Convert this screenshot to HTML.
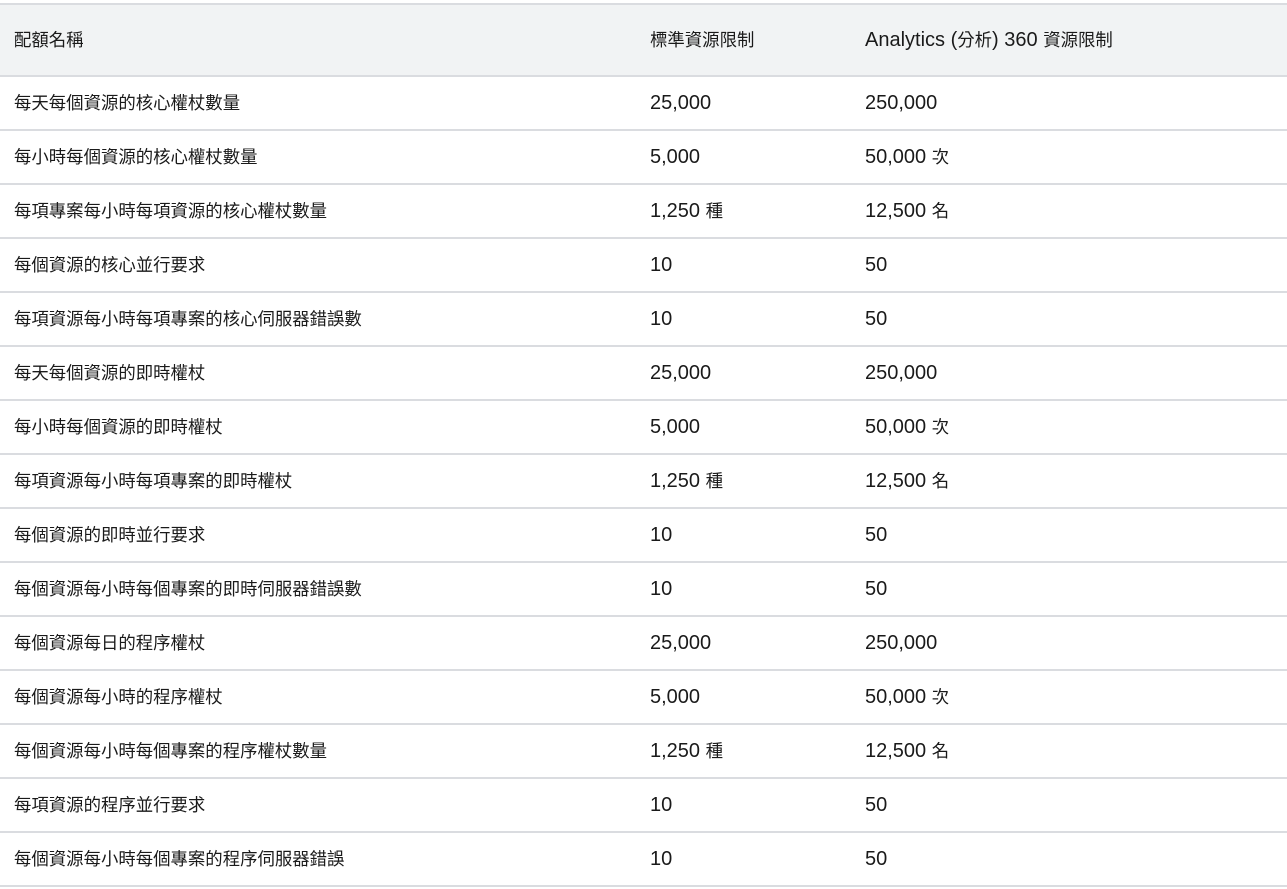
<!DOCTYPE html>
<html><head><meta charset="utf-8"><style>
body{margin:0;width:1287px;height:889px;background:#fff;font-family:"Liberation Sans","Noto Sans CJK TC",sans-serif;color:#1a1a1a;font-size:17.4px;overflow:hidden}
table{position:absolute;left:0;top:3px;width:1287px;border-collapse:collapse}
th,td{text-align:left;font-weight:normal;padding:0;height:52px;line-height:22px;vertical-align:middle;border-bottom:2px solid #dadce0;white-space:nowrap}
th{height:70px;background:#f1f3f4;border-top:2px solid #dadce0}
td:first-child,th:first-child{padding-left:14px;width:636px}
td:nth-child(2),th:nth-child(2){width:215px}
td{padding-top:0;}
.l{font-size:20px;vertical-align:top;line-height:22px}
</style></head><body>
<table>
<thead><tr><th>配額名稱</th><th>標準資源限制</th><th><span class="l">Analytics (</span>分析<span class="l">) 360 </span>資源限制</th></tr></thead>
<tbody id="tb"></tbody></table>
<script>
const names=["每天每個資源的核心權杖數量","每小時每個資源的核心權杖數量","每項專案每小時每項資源的核心權杖數量","每個資源的核心並行要求","每項資源每小時每項專案的核心伺服器錯誤數","每天每個資源的即時權杖","每小時每個資源的即時權杖","每項資源每小時每項專案的即時權杖","每個資源的即時並行要求","每個資源每小時每個專案的即時伺服器錯誤數","每個資源每日的程序權杖","每個資源每小時的程序權杖","每個資源每小時每個專案的程序權杖數量","每項資源的程序並行要求","每個資源每小時每個專案的程序伺服器錯誤"];
const standard=["25,000","5,000","1,250 種","10","10","25,000","5,000","1,250 種","10","10","25,000","5,000","1,250 種","10","10"];
const premium=["250,000","50,000 次","12,500 名","50","50","250,000","50,000 次","12,500 名","50","50","250,000","50,000 次","12,500 名","50","50"];
const tb=document.getElementById('tb');
function fill(td,v){
  const parts=v.match(/[\x20-\x7e]+|[^\x20-\x7e]+/g)||[];
  parts.forEach(p=>{
    if(/^[\x20-\x7e]+$/.test(p)){const s=document.createElement('span');s.className='l';s.textContent=p;td.appendChild(s);}
    else td.appendChild(document.createTextNode(p));
  });
}
names.forEach((n,i)=>{
const tr=document.createElement('tr');


[n,standard[i],premium[i]].forEach((v,j)=>{
const td=document.createElement('td');
fill(td,v);


tr.appendChild(td);});
tb.appendChild(tr);});
</script>
</body></html>
